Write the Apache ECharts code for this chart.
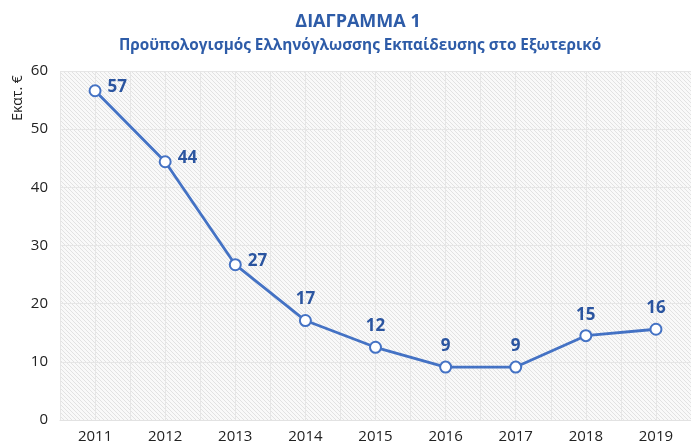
<!DOCTYPE html>
<html>
<head>
<meta charset="utf-8">
<script src="https://cdn.jsdelivr.net/npm/echarts@6/dist/echarts.min.js"></script>
<style>
  html, body { margin: 0; padding: 0; background: #fff; }
  #chart { width: 691px; height: 444px; }
</style>
</head>
<body>
<div id="chart"></div>
<script>
const years = ['2011', '2012', '2013', '2014', '2015', '2016', '2017', '2018', '2019']
const budget = [56.6, 44.4, 26.7, 17.1, 12.5, 9.1, 9.1, 14.5, 15.6]
const budgetLabels = [57, 44, 27, 17, 12, 9, 9, 15, 16]
const yTicks = [0, 10, 20, 30, 40, 50, 60]

// hatch pattern for plot background
const hatch = document.createElement('canvas')
hatch.width = 4
hatch.height = 4
const hc = hatch.getContext('2d')
hc.fillStyle = '#f9f9f9'
hc.fillRect(0, 0, 4, 4)
hc.strokeStyle = '#e2e2e2'
hc.lineWidth = 1
hc.beginPath()
hc.moveTo(-1, -1); hc.lineTo(5, 5)
hc.moveTo(-1, 3); hc.lineTo(1, 5)
hc.moveTo(3, -1); hc.lineTo(5, 1)
hc.stroke()

const chart = echarts.init(document.getElementById('chart'))

const labelSide = { position: 'right', distance: 6, offset: [0, -4] }

chart.setOption({
  animation: false,
  textStyle: { fontFamily: 'Open Sans' },
  title: [
    {
      text: 'ΔΙΑΓΡΑΜΜΑ 1',
      left: 353, top: 8, textAlign: 'center',
      textStyle: { color: '#2e5ca8', fontSize: 18, fontWeight: 'bold', fontFamily: 'Open Sans' }
    },
    {
      text: 'Προϋπολογισμός Ελληνόγλωσσης Εκπαίδευσης στο Εξωτερικό',
      left: 355, top: 33, textAlign: 'center',
      textStyle: { color: '#2e5ca8', fontSize: 15.3, fontWeight: 'bold', fontFamily: 'Open Sans' }
    }
  ],
  graphic: [{
    type: 'text',
    x: 18, y: 98, rotation: Math.PI / 2,
    style: {
      text: 'Εκατ. €', fill: '#222', font: '14px "Open Sans"',
      textAlign: 'center', textVerticalAlign: 'middle'
    }
  }],
  grid: {
    left: 60, top: 71, width: 641, height: 350,
    show: true, borderWidth: 0,
    backgroundColor: { image: hatch, repeat: 'repeat' }
  },
  xAxis: [
    {
      type: 'category',
      data: years,
      boundaryGap: true,
      axisLine: { show: true, lineStyle: { color: '#e2e2e2' } },
      axisTick: { show: false },
      splitLine: { show: false },
      axisLabel: { color: '#222', fontSize: 15, margin: 9 }
    },
    {
      type: 'value',
      min: 0, max: 18, interval: 1,
      position: 'bottom',
      axisLine: { show: false },
      axisTick: { show: false },
      axisLabel: { show: false },
      splitLine: { show: true, lineStyle: { color: '#e6e6e6', width: 1 } }
    }
  ],
  yAxis: {
    type: 'value',
    min: yTicks[0], max: yTicks[yTicks.length - 1], interval: 10,
    axisLine: { show: false },
    axisTick: { show: false },
    axisLabel: { color: '#222', fontSize: 15, margin: 12 },
    splitLine: { show: true, lineStyle: { color: '#e6e6e6', width: 1 } }
  },
  series: [{
    type: 'line',
    xAxisIndex: 0,
    data: budget.map((v, i) => ({
      value: v,
      label: i < 3 ? labelSide : undefined
    })),
    symbol: 'circle',
    symbolSize: 11,
    showAllSymbol: true,
    lineStyle: { color: '#4472c4', width: 2.8 },
    itemStyle: { color: '#fff', borderColor: '#4472c4', borderWidth: 2 },
    label: {
      show: true,
      position: 'top',
      distance: 6,
      color: '#2b55a0',
      fontSize: 17,
      fontWeight: 'bold',
      fontFamily: 'Open Sans',
      formatter: p => budgetLabels[p.dataIndex]
    }
  }]
})
</script>
</body>
</html>
